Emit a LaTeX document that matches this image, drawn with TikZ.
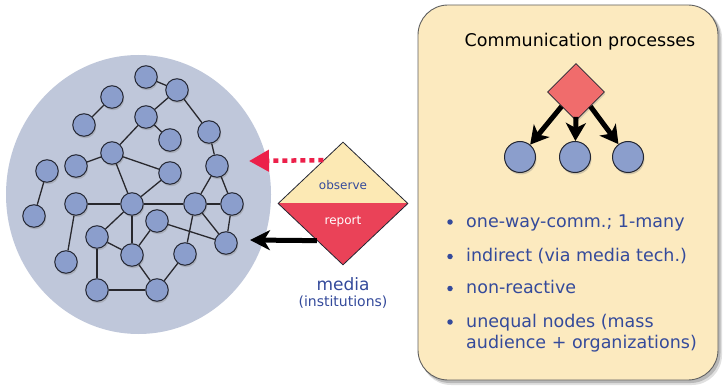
\documentclass[tikz,border=0pt]{standalone}
\usepackage{fontspec}
\setmainfont{DejaVu Sans}
\usetikzlibrary{shapes.geometric,arrows.meta,shadows,calc}

\definecolor{worldfill}{RGB}{191,199,218}
\definecolor{nodefill}{RGB}{139,158,204}
\definecolor{nodeline}{RGB}{35,38,50}
\definecolor{edgecol}{RGB}{40,40,45}
\definecolor{panelfill}{RGB}{252,234,191}
\definecolor{panelline}{RGB}{95,95,95}
\definecolor{textblue}{RGB}{52,74,155}
\definecolor{observefill}{RGB}{252,233,180}
\definecolor{reportfill}{RGB}{234,66,88}
\definecolor{feedred}{RGB}{236,32,74}
\definecolor{srcfill}{RGB}{240,108,108}

\tikzset{
  netnode/.style={circle, draw=nodeline, line width=1pt, fill=nodefill,
    minimum size=22.5pt, inner sep=0pt,
    drop shadow={opacity=0.35, shadow xshift=1pt, shadow yshift=-2pt}},
  netedge/.style={draw=edgecol, line width=1.3pt},
  bigtext/.style={font=\fontsize{17.5}{21}\selectfont},
  itemtext/.style={bigtext, text=textblue, inner sep=0pt},
  dot/.style={circle, fill=textblue, minimum size=5.5pt, inner sep=0pt},
  fatarrow/.style={line width=5pt, -{Stealth[length=18pt,width=20pt,inset=5pt]}},
}

\begin{document}
\begin{tikzpicture}[x=1pt,y=-1pt]
\useasboundingbox (0,0) rectangle (727,387);

% society: the network of people
\node[ellipse, fill=worldfill, minimum width=265pt, minimum height=279pt, inner sep=0pt]
  (world) at (138.5,194.5) {};

\foreach \n/\x/\y in {
   1/146/77,   2/177/90,   3/112/97,   4/84/125,   5/146/117,
   6/170/140,  7/209/132,  8/112/153,  9/76/166,  10/170/173,
  11/217/166, 12/47/171,  13/76/204,  14/132/204, 15/195/204,
  16/232/204, 17/34/216,  18/157/221, 19/97/237,  20/226/243,
  21/132/255, 22/185/254, 23/66/262,  24/97/290,  25/157/290}
  \node[netnode] (n\n) at (\x,\y) {};

\foreach \a/\b in {1/2, 2/5, 2/7, 3/4, 5/6, 5/8, 8/9, 8/10, 8/14, 10/14,
                   7/11, 11/15, 11/16, 12/17, 13/14, 14/15, 15/16, 15/20,
                   16/20, 13/23, 14/19, 14/21, 18/21, 18/20, 19/21, 19/24,
                   24/25, 21/25, 25/22, 22/15}
  \draw[netedge] (n\a) -- (n\b);

% the media: observe / report
\node[diamond, draw=nodeline, line width=0.8pt, minimum width=130pt, minimum height=123pt,
  inner sep=0pt,
  path picture={
    \fill[observefill] (path picture bounding box.north west) rectangle (path picture bounding box.east);
    \fill[reportfill] (path picture bounding box.west) rectangle (path picture bounding box.south east);
  }] (media) at (343,203.5) {};
\node[text=textblue, font=\fontsize{12}{14}\selectfont, anchor=base] (obs) at (343,190) {observe};
\node[text=white, font=\fontsize{12}{14}\selectfont, anchor=base] (rep) at (343,225) {report};
\node[text=textblue, font=\fontsize{17}{20}\selectfont, anchor=base] (medlabel) at (343,290) {media};
\node[text=textblue, font=\fontsize{14}{17}\selectfont, anchor=base] (instlabel) at (343,306.5) {(institutions)};

% observation (dotted) and reporting (solid) arrows
\coordinate (obsEnd) at (249,161);
\coordinate (repEnd) at (250,240);
\draw[feedred, line width=4.5pt, dash pattern=on 5pt off 4pt,
  -{Triangle[length=20pt,width=21pt]}] ($(media.north)!0.3!(media.west)$) -- (obsEnd);
\draw[black, line width=5pt, -{Stealth[length=20pt,width=20pt,inset=6pt]}]
  ($(media.south)!0.4!(media.west)$) -- (repEnd);

% panel: communication processes
\fill[black, opacity=0.12, rounded corners=30pt] (421,8) rectangle (722,385);
\fill[black, opacity=0.18, rounded corners=30pt] (420,7) rectangle (720.5,383);
\node[draw=panelline, line width=0.9pt, fill=panelfill, rounded corners=30pt,
  minimum width=300pt, minimum height=375pt, inner sep=0pt] (panel) at (568,192.5) {};

\node[bigtext, anchor=base] (title) at (580,47) {Communication processes};

\node[diamond, draw=nodeline, line width=0.6pt, fill=srcfill, minimum width=57pt,
  minimum height=57pt, inner sep=0pt,
  drop shadow={opacity=0.25, shadow xshift=1pt, shadow yshift=-2pt}] (src) at (576,92) {};
\node[netnode, minimum size=31pt] (c1) at (520,157) {};
\node[netnode, minimum size=31pt] (c2) at (575,157) {};
\node[netnode, minimum size=31pt] (c3) at (628,157) {};
\draw[fatarrow] (src.south west) -- (c1);
\draw[fatarrow] ($(src.south)+(0,-4)$) -- (c2);
\draw[fatarrow] (src.south east) -- (c3);

% properties
\node[dot] (d1) at (450,222) {};
\node[itemtext, anchor=base west] (t1) at (466,227) {one-way-comm.; 1-many};
\node[dot] (d2) at (450,256.5) {};
\node[itemtext, anchor=base west] (t2) at (466,261.5) {indirect (via media tech.)};
\node[dot] (d3) at (450,288.5) {};
\node[itemtext, anchor=base west] (t3) at (466,293.5) {non-reactive};
\node[dot] (d4) at (450,322) {};
\node[itemtext, anchor=base west] (t4) at (466,327) {unequal nodes (mass};
\node[itemtext, anchor=base west] (t4b) at (466,348) {audience + organizations)};
\end{tikzpicture}
\end{document}
